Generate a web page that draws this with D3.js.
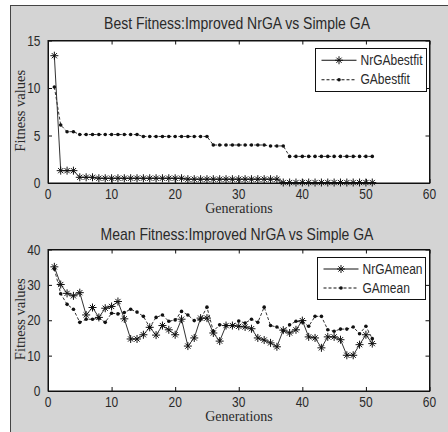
<!DOCTYPE html>
<meta charset="utf-8">
<style>
body { margin: 0; background: white; }
text { font-family: "Liberation Sans", Arial, sans-serif; fill: #2a2a2a; }
.serif { font-family: "Liberation Serif", "Times New Roman", serif; }
</style>
<body>
<script src="https://d3js.org/d3.v7.min.js"></script>
<script>

// generations 1..51
var generations = [1,2,3,4,5,6,7,8,9,10,11,12,13,14,15,16,17,18,19,20,
  21,22,23,24,25,26,27,28,29,30,31,32,33,34,35,36,37,38,39,40,
  41,42,43,44,45,46,47,48,49,50,51];

var nrgaBest = [13.4,1.3,1.3,1.3,0.6,0.6,0.6,0.5,0.5,0.5,
  0.5,0.5,0.5,0.5,0.5,0.5,0.5,0.5,0.5,0.5,
  0.5,0.4,0.4,0.4,0.4,0.4,0.4,0.4,0.4,0.4,
  0.4,0.4,0.4,0.4,0.4,0.4,0.05,0.05,0.05,0.05,
  0.05,0.05,0.05,0.05,0.05,0.05,0.05,0.05,0.05,0.05,0.05];

var gaBest = [10.1,6.1,5.4,5.4,5.1,5.1,5.1,5.1,5.1,5.1,
  5.1,5.1,5.1,5.1,4.9,4.9,4.9,4.9,4.9,4.9,
  4.9,4.9,4.9,4.9,4.9,4.0,4.0,4.0,4.0,4.0,
  4.0,4.0,4.0,4.0,3.9,3.9,3.9,2.8,2.8,2.8,
  2.8,2.8,2.8,2.8,2.8,2.8,2.8,2.8,2.8,2.8,2.8];

var nrgaMean = [35.1,30.1,27.6,26.9,27.8,21.5,23.6,20.8,23.4,23.9,
  25.3,20.4,14.7,14.7,15.9,18.0,15.8,18.5,17.3,15.9,
  20.3,12.7,15.0,20.6,20.6,16.4,14.1,18.5,18.5,18.3,
  18.1,17.6,15.0,14.4,13.6,12.5,17.2,16.4,17.3,19.9,
  15.3,15.0,12.2,15.3,15.3,14.5,10.1,10.1,13.1,15.9,13.4];

var gaMean = [34.5,27.5,24.5,23.1,19.4,20.3,20.3,20.6,19.4,22.0,
  21.8,22.2,23.1,22.3,21.1,18.0,20.8,21.5,19.7,20.1,
  22.5,21.5,19.9,20.3,23.7,16.9,18.7,18.5,18.5,19.8,
  19.2,20.3,19.4,23.7,18.5,18.1,17.0,18.7,19.7,19.5,
  18.3,21.1,21.1,17.3,16.9,17.5,17.5,18.1,16.2,18.3,14.8];

var xTicks = [0,10,20,30,40,50,60];
var bestTicks = [0,5,10,15];
var meanTicks = [0,10,20,30,40];

var svg = d3.select("body").append("svg")
    .attr("width", 448)
    .attr("height", 432);

// figure background (grey, with dark edge on left and top)
svg.append("rect").attr("x", 10).attr("y", 5).attr("width", 438).attr("height", 427).attr("fill", "#d4d4d4");
svg.append("line").attr("x1", 10.5).attr("x2", 10.5).attr("y1", 5).attr("y2", 432).attr("stroke", "#444");
svg.append("line").attr("x1", 10).attr("x2", 448).attr("y1", 5.5).attr("y2", 5.5).attr("stroke", "#444");

var star = "M0,-4V4M-4,0H4M-2.6,-2.6L2.6,2.6M-2.6,2.6L2.6,-2.6";

function panel(cfg) {
  var x = d3.scaleLinear().domain([0, 60]).range([48, 429.5]);
  var y = d3.scaleLinear().domain(cfg.yDomain).range([cfg.bottom, cfg.top]);
  var g = svg.append("g");

  g.append("rect")
    .attr("x", x(0)).attr("y", y(cfg.yDomain[1]))
    .attr("width", x(60) - x(0)).attr("height", y(0) - y(cfg.yDomain[1]))
    .attr("fill", "white");

  // ticks pointing inward on all four sides
  g.append("g").attr("transform", "translate(0," + y(0) + ")")
    .call(d3.axisBottom(x).tickValues(xTicks).tickSizeInner(-4).tickSizeOuter(0).tickFormat(""));
  g.append("g").attr("transform", "translate(0," + y(cfg.yDomain[1]) + ")")
    .call(d3.axisTop(x).tickValues(xTicks).tickSizeInner(-4).tickSizeOuter(0).tickFormat(""));
  g.append("g").attr("transform", "translate(" + x(0) + ",0)")
    .call(d3.axisLeft(y).tickValues(cfg.yTicks).tickSizeInner(-4).tickSizeOuter(0).tickFormat(""));
  g.append("g").attr("transform", "translate(" + x(60) + ",0)")
    .call(d3.axisRight(y).tickValues(cfg.yTicks).tickSizeInner(-4).tickSizeOuter(0).tickFormat(""));
  g.selectAll(".domain").attr("stroke", "#111");
  g.selectAll(".tick line").attr("stroke", "#111");

  // tick labels
  g.selectAll(".xl").data(xTicks).join("text")
    .attr("transform", function(d) { return "translate(" + x(d) + "," + (y(0) + 15.5) + ") scale(1,1.2)"; })
    .attr("text-anchor", "middle").attr("font-size", 12)
    .text(function(d) { return d; });
  g.selectAll(".yl").data(cfg.yTicks).join("text")
    .attr("transform", function(d) { return "translate(" + (x(0) - 7.5) + "," + (y(d) + 5) + ") scale(1,1.2)"; })
    .attr("text-anchor", "end").attr("font-size", 12)
    .text(function(d) { return d; });

  // series
  var solid = d3.line().x(function(d, i) { return x(generations[i]); }).y(function(d) { return y(d); });
  g.append("path").datum(cfg.nrga).attr("d", solid)
    .attr("fill", "none").attr("stroke", "#333").attr("stroke-width", 1);
  g.append("path").datum(cfg.ga).attr("d", solid)
    .attr("fill", "none").attr("stroke", "#333").attr("stroke-width", 1).attr("stroke-dasharray", "3,2");
  g.selectAll(".star").data(cfg.nrga).join("path")
    .attr("transform", function(d, i) { return "translate(" + x(generations[i]) + "," + y(d) + ")"; })
    .attr("d", star).attr("stroke", "#111").attr("stroke-width", 1).attr("fill", "none");
  g.selectAll(".dot").data(cfg.ga).join("circle")
    .attr("cx", function(d, i) { return x(generations[i]); })
    .attr("cy", function(d) { return y(d); })
    .attr("r", 1.8).attr("fill", "#111");

  // frame on top
  g.append("rect")
    .attr("x", x(0)).attr("y", y(cfg.yDomain[1]))
    .attr("width", x(60) - x(0)).attr("height", y(0) - y(cfg.yDomain[1]))
    .attr("fill", "none").attr("stroke", "#111");

  // titles
  g.append("text")
    .attr("transform", "translate(237," + cfg.titleY + ") scale(1,1.2)")
    .attr("text-anchor", "middle").attr("font-size", 14)
    .text(cfg.title);
  g.append("text").attr("class", "serif")
    .attr("transform", "translate(239," + (y(0) + 30) + ")")
    .attr("text-anchor", "middle").attr("font-size", 14)
    .text("Generations");
  g.append("text").attr("class", "serif")
    .attr("transform", "translate(25," + ((y(0) + y(cfg.yDomain[1])) / 2 - 1) + ") rotate(-90)")
    .attr("text-anchor", "middle").attr("font-size", 14.5)
    .text("Fitness values");

  // legend
  var lg = g.append("g").attr("transform", "translate(" + cfg.legend[0] + "," + cfg.legend[1] + ")");
  lg.append("rect").attr("width", cfg.legend[2]).attr("height", cfg.legend[3])
    .attr("fill", "white").attr("stroke", "#111");
  var rowH = cfg.legend[3] / 2;
  [[cfg.names[0], null, true], [cfg.names[1], "3,2", false]].forEach(function(e, i) {
    var cy = rowH * (i + 0.5) + (i === 0 ? 1 : -1);
    lg.append("line").attr("x1", 6).attr("x2", 41).attr("y1", cy).attr("y2", cy)
      .attr("stroke", "#111").attr("stroke-dasharray", e[1]);
    if (e[2]) lg.append("path").attr("transform", "translate(23.5," + cy + ")").attr("d", star).attr("stroke", "#111").attr("fill", "none");
    else lg.append("circle").attr("cx", 23.5).attr("cy", cy).attr("r", 1.8).attr("fill", "#111");
    lg.append("text").attr("transform", "translate(45," + (cy + 4.5) + ") scale(1,1.15)")
      .attr("font-size", 12).text(e[0]);
  });
}

panel({
  yDomain: [0, 15], yTicks: bestTicks, top: 40.5, bottom: 183,
  nrga: nrgaBest, ga: gaBest, titleY: 29,
  title: "Best Fitness:Improved NrGA vs Simple GA",
  names: ["NrGAbestfit", "GAbestfit"],
  legend: [315.5, 48.5, 111, 43]
});

panel({
  yDomain: [0, 40], yTicks: meanTicks, top: 249.5, bottom: 391,
  nrga: nrgaMean, ga: gaMean, titleY: 240,
  title: "Mean Fitness:Improved NrGA vs Simple GA",
  names: ["NrGAmean", "GAmean"],
  legend: [317.5, 257.5, 108, 42]
});

</script>
</body>
